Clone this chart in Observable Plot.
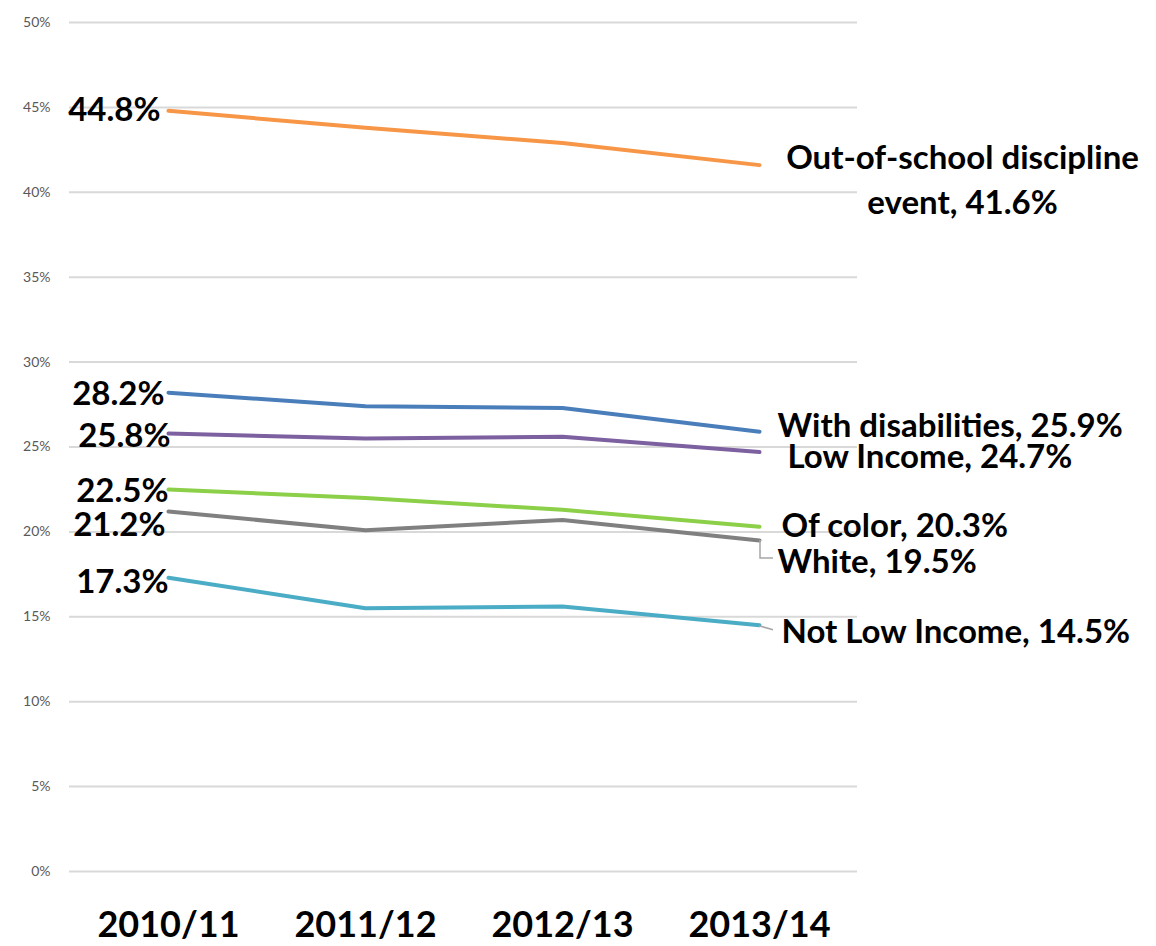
<!DOCTYPE html>
<html><head><meta charset="utf-8">
<script src="https://cdn.jsdelivr.net/npm/d3@7"></script>
<script src="https://cdn.jsdelivr.net/npm/@observablehq/plot@0.6"></script>
<style>body{margin:0;background:#fff;overflow:hidden}</style>
</head><body><div id="chart"></div>
<script>
// ---- data ----
const years = ["2010/11", "2011/12", "2012/13", "2013/14"];
const seriesNames = ["Out-of-school discipline event", "With disabilities", "Low Income", "Of color", "White", "Not Low Income"];
const seriesLabels = ["Out-of-school discipline\nevent", "With disabilities", "Low Income", "Of color", "White", "Not Low Income"];
const outOfSchool = [44.8, 43.8, 42.9, 41.6];
const withDisabilities = [28.2, 27.4, 27.3, 25.9];
const lowIncome = [25.8, 25.5, 25.6, 24.7];
const ofColor = [22.5, 22.0, 21.3, 20.3];
const white = [21.2, 20.1, 20.7, 19.5];
const notLowIncome = [17.3, 15.5, 15.6, 14.5];
const yTicks = [0, 5, 10, 15, 20, 25, 30, 35, 40, 45, 50];

// ---- styles ----
const colors = ["#F79646", "#4A7EBB", "#7D60A0", "#8CCF48", "#808080", "#4BACC6"];
const startOffsets = [[-8, 0], [-4, 2], [2, 3], [0, 2], [-3, 14], [0, 5]];
const endOffsets = [[203, 12], [18, -9], [28, 2], [22, -4], [18, 18], [22, 3]];

const allValues = [outOfSchool, withDisabilities, lowIncome, ofColor, white, notLowIncome];
const rows = [];
seriesNames.forEach((s, i) => years.forEach((yr, j) => rows.push({series: s, year: yr, value: allValues[i][j]})));
const fmt = v => v.toFixed(1) + "%";
const last = years[years.length - 1];

function leader(seriesIndex, pathFn) {
  return function(...args) {
    const scales = (args[0] && typeof args[0].x === "function") ? args[0] : args[1];
    const v = allValues[seriesIndex][years.length - 1];
    const x = scales.x(last), y = scales.y(v);
    return d3.create("svg:path")
      .attr("d", pathFn(x, y))
      .attr("fill", "none")
      .attr("stroke", "#a6a6a6")
      .attr("stroke-width", 1.5)
      .node();
  };
}

const labelFont = {fontSize: 33, fontWeight: "bold", fill: "#000"};
const marks = [
  Plot.ruleY(yTicks, {stroke: "#d9d9d9", strokeWidth: 2}),
  Plot.axisY({ticks: yTicks, tickSize: 0, tickPadding: 19, fontSize: 14, fill: "#595959", tickFormat: d => d + "%", label: null}),
  Plot.axisX({tickSize: 0, tickPadding: 40, fontSize: 36, fontWeight: "bold", fill: "#000", label: null}),
  Plot.line(rows, {x: "year", y: "value", z: "series", stroke: "series", strokeWidth: 4}),
  leader(4, (x, y) => `M${x + 1},${y}V${y + 18}H${x + 14}`),
  leader(5, (x, y) => `M${x},${y + 1}L${x + 14},${y + 5}`)
];
seriesNames.forEach((s, i) => {
  marks.push(Plot.text([{year: years[0], value: allValues[i][0]}], {
    x: "year", y: "value", text: d => fmt(d.value), textAnchor: "end",
    dx: startOffsets[i][0], dy: startOffsets[i][1], ...labelFont
  }));
  marks.push(Plot.text([{year: last, value: allValues[i][years.length - 1]}], {
    x: "year", y: "value", text: d => seriesLabels[i] + ", " + fmt(d.value),
    textAnchor: i === 0 ? "middle" : "start", lineHeight: 1.36,
    dx: endOffsets[i][0], dy: endOffsets[i][1], ...labelFont
  }));
});

const chart = Plot.plot({
  width: 1156,
  height: 946,
  marginLeft: 69,
  marginRight: 299,
  marginTop: 22,
  marginBottom: 75,
  style: {fontFamily: "Lato, sans-serif", background: "#fff", overflow: "visible"},
  x: {type: "point", domain: years, padding: 0.5, axis: null},
  y: {domain: [0, 50], axis: null},
  color: {domain: seriesNames, range: colors},
  marks
});
document.getElementById("chart").appendChild(chart);
</script>
</body></html>
